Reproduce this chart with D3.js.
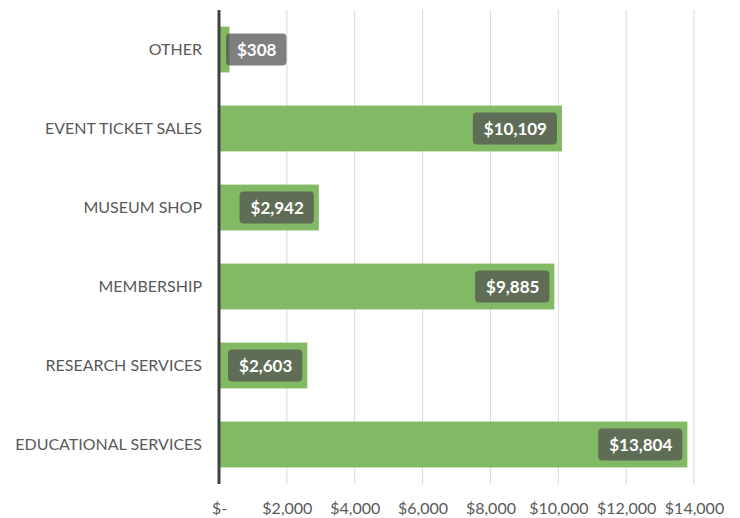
<!DOCTYPE html>
<html>
<head>
<meta charset="utf-8">
<script src="https://cdn.jsdelivr.net/npm/d3@7"></script>
<style>
  body { margin: 0; background: #fff; }
  text { font-family: Lato, "Open Sans", sans-serif; }
</style>
</head>
<body>
<script>
// revenue by source, top to bottom as drawn
const categories = ["OTHER", "EVENT TICKET SALES", "MUSEUM SHOP", "MEMBERSHIP", "RESEARCH SERVICES", "EDUCATIONAL SERVICES"];
const revenue = [308, 10109, 2942, 9885, 2603, 13804];
const tickValues = [0, 2000, 4000, 6000, 8000, 10000, 12000, 14000];

const fmtMoney = d => d === 0 ? "$-" : "$" + d3.format(",")(d);

const chart = () => {
  const width = 740, height = 518;
  const margin = {top: 10, right: 46, bottom: 34, left: 219};

  const svg = d3.select("body").append("svg")
      .attr("width", width)
      .attr("height", height);

  const x = d3.scaleLinear()
      .domain([0, 14000])
      .range([margin.left, width - margin.right]);

  const y = d3.scaleBand()
      .domain(categories)
      .range([margin.top, height - margin.bottom])
      .paddingInner(0.42)
      .paddingOuter(0.21);

  // gridlines
  svg.append("g")
    .selectAll("line")
    .data(tickValues.slice(1))
    .join("line")
      .attr("x1", d => x(d)).attr("x2", d => x(d))
      .attr("y1", margin.top).attr("y2", height - margin.bottom)
      .attr("stroke", "#d9d9d9")
      .attr("stroke-width", 1);

  // x tick labels
  svg.append("g")
      .attr("transform", `translate(0, ${height - margin.bottom})`)
      .call(d3.axisBottom(x).tickValues(tickValues).tickFormat(fmtMoney).tickSize(0).tickPadding(19))
      .call(g => g.select(".domain").remove())
      .selectAll("text")
        .attr("fill", "#595959")
        .attr("font-size", "16px")
        .attr("font-family", "Lato, sans-serif");

  // bars
  const rows = categories.map((c, i) => ({name: c, value: revenue[i]}));

  svg.append("g")
    .selectAll("rect")
    .data(rows)
    .join("rect")
      .attr("x", x(0))
      .attr("y", d => y(d.name))
      .attr("width", d => x(d.value) - x(0))
      .attr("height", y.bandwidth())
      .attr("fill", "#82b964");

  // category labels
  svg.append("g")
      .attr("transform", `translate(${margin.left}, 0)`)
      .call(d3.axisLeft(y).tickSize(0).tickPadding(17))
      .call(g => g.select(".domain").remove())
      .selectAll("text")
        .attr("fill", "#595959")
        .attr("font-size", "16px")
        .attr("font-family", "Lato, sans-serif");

  // axis line
  svg.append("line")
      .attr("x1", x(0)).attr("x2", x(0))
      .attr("y1", margin.top).attr("y2", height - margin.bottom)
      .attr("stroke", "#404040")
      .attr("stroke-width", 3);

  // value labels
  const lab = svg.append("g")
    .selectAll("g")
    .data(rows)
    .join("g");

  lab.append("rect")
      .attr("rx", 4)
      .attr("fill", "rgb(82,82,82)")
      .attr("fill-opacity", 0.74);

  lab.append("text")
      .text(d => fmtMoney(d.value))
      .attr("fill", "#fff")
      .attr("font-weight", "bold")
      .attr("font-size", "17px")
      .attr("dominant-baseline", "central");

  lab.each(function(d) {
    const g = d3.select(this);
    const tw = g.select("text").node().getComputedTextLength();
    const w = tw + 21, h = 32;
    const bx = Math.max(x(d.value) - 5 - w, x(0) + 7);
    const cy = y(d.name) + y.bandwidth() / 2;
    g.select("rect").attr("x", bx).attr("y", cy - h / 2).attr("width", w).attr("height", h);
    g.select("text").attr("x", bx + 11).attr("y", cy);
  });
};

chart();
</script>
</body>
</html>
